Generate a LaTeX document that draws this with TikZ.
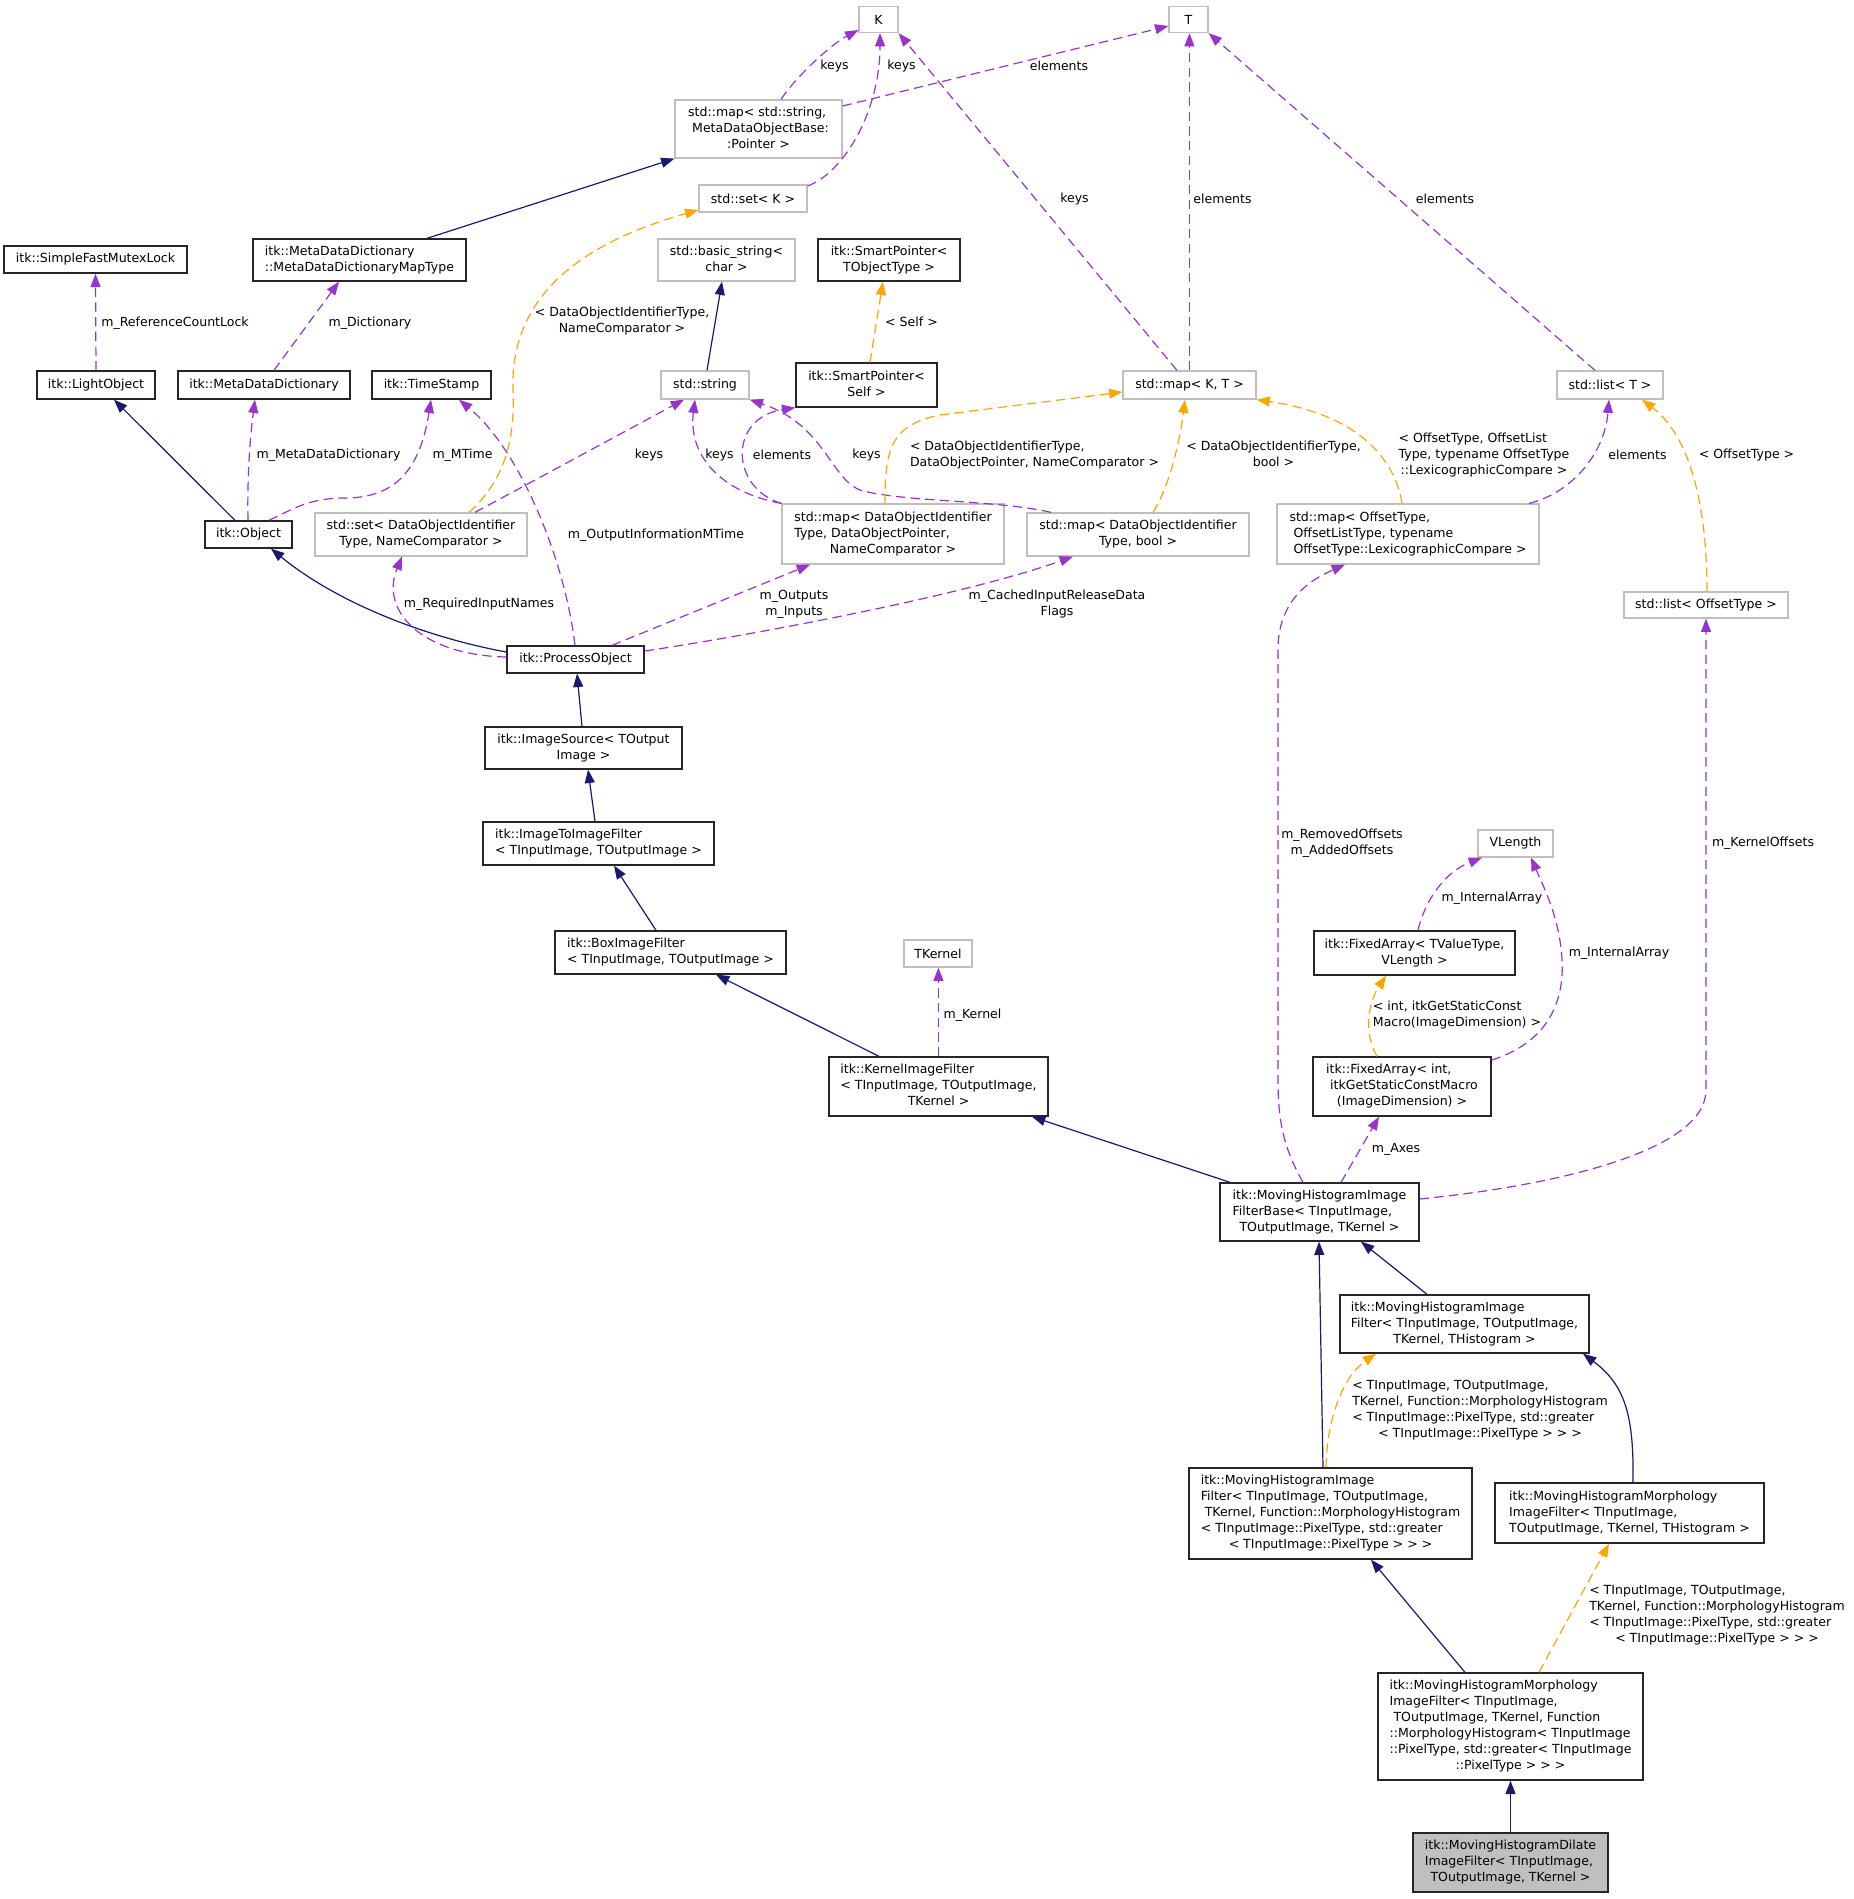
\documentclass[tikz,border=0pt]{standalone}
\usepackage{fontspec}
\setmainfont{DejaVu Sans}
\usepackage{xcolor}
\usepackage{tikz}
\usetikzlibrary{arrows.meta}
\definecolor{midnight}{HTML}{191970}
\definecolor{orchid}{HTML}{9A32CD}
\definecolor{amber}{HTML}{FFA500}
\definecolor{greybox}{HTML}{BFBFBF}
% lines left aligned, last line centred
\newcommand{\nlab}[2]{\begin{tabular}{@{}l@{}}#1\\\multicolumn{1}{@{}c@{}}{#2}\end{tabular}}

\begin{document}
\begin{tikzpicture}[x=0.75pt, y=-0.75pt,
    font=\fontsize{9.4}{12}\selectfont,
    cls/.style={rectangle, draw=black!85, line width=1pt, fill=white, inner sep=1pt},
    ext/.style={cls, draw=greybox, line width=0.9pt},
    sz/.style 2 args={minimum width=#1*0.75pt, minimum height=#2*0.75pt},
    lab/.style={inner sep=0pt},
    inh/.style={-{Triangle[length=10pt, width=7.5pt]}, midnight, line width=0.9pt},
    usg/.style={inh, orchid, dash pattern=on 7pt off 4pt},
    tpl/.style={usg, amber},
]
    \path[use as bounding box, fill=white] (0,0) rectangle (1853,1899);

    % classes
    \node[ext, sz={39}{26}] (K) at (878.5,19.5) {K};
    \node[ext, sz={39}{26}] (T) at (1188.5,19.5) {T};
    \node[ext, sz={167}{58}] (mapStr) at (758.5,129) {\nlab{std::map< std::string,\\\ MetaDataObjectBase:}{:Pointer >}};
    \node[ext, sz={108}{27}] (setK) at (753,198.5) {std::set< K >};
    \node[cls, sz={183}{27}] (mutex) at (95.5,259.5) {itk::SimpleFastMutexLock};
    \node[cls, sz={213}{42}] (mapType) at (359.5,260) {\nlab{itk::MetaDataDictionary}{::MetaDataDictionaryMapType}};
    \node[ext, sz={137}{42}] (basicStr) at (726.5,260) {\nlab{std::basic\_string<}{char >}};
    \node[cls, sz={142}{42}] (spTObj) at (889,260) {\nlab{itk::SmartPointer<}{TObjectType >}};
    \node[cls, sz={118}{28}] (lightObj) at (96,385) {itk::LightObject};
    \node[cls, sz={172}{28}] (mdd) at (264,385) {itk::MetaDataDictionary};
    \node[cls, sz={119}{28}] (timeStamp) at (431.5,385) {itk::TimeStamp};
    \node[ext, sz={88}{28}] (stdStr) at (705,385) {std::string};
    \node[cls, sz={141}{44}] (spSelf) at (866.5,385) {\nlab{itk::SmartPointer<}{Self >}};
    \node[ext, sz={133}{28}] (mapKT) at (1189.5,385) {std::map< K, T >};
    \node[ext, sz={106}{28}] (listT) at (1610,385) {std::list< T >};
    \node[cls, sz={87}{27}] (object) at (248.5,534.5) {itk::Object};
    \node[ext, sz={212}{43}] (setDOI) at (421,534.5) {\nlab{std::set< DataObjectIdentifier}{Type, NameComparator >}};
    \node[ext, sz={222}{60}] (mapDOP) at (893,534) {\nlab{std::map< DataObjectIdentifier\\Type, DataObjectPointer,}{NameComparator >}};
    \node[ext, sz={222}{43}] (mapBool) at (1138,534.5) {\nlab{std::map< DataObjectIdentifier}{Type, bool >}};
    \node[ext, sz={262}{60}] (mapOff) at (1408,534) {\nlab{std::map< OffsetType,\\\ OffsetListType, typename}{\ OffsetType::LexicographicCompare >}};
    \node[ext, sz={164}{26}] (listOff) at (1706,605) {std::list< OffsetType >};
    \node[cls, sz={137}{27}] (procObj) at (575.5,659.5) {itk::ProcessObject};
    \node[cls, sz={197}{42}] (imgSrc) at (583.5,748) {\nlab{itk::ImageSource< TOutput}{Image >}};
    \node[cls, sz={231}{43}] (i2i) at (598.5,843.5) {\nlab{itk::ImageToImageFilter}{< TInputImage, TOutputImage >}};
    \node[ext, sz={75}{27}] (vlen) at (1515.5,843.5) {VLength};
    \node[cls, sz={231}{43}] (boxF) at (670.5,952.5) {\nlab{itk::BoxImageFilter}{< TInputImage, TOutputImage >}};
    \node[ext, sz={68}{27}] (tkernel) at (938,953.5) {TKernel};
    \node[cls, sz={201}{44}] (faTV) at (1414.5,953) {\nlab{itk::FixedArray< TValueType,}{VLength >}};
    \node[cls, sz={219}{59}] (kif) at (938.5,1086.5) {\nlab{itk::KernelImageFilter\\< TInputImage, TOutputImage,}{TKernel >}};
    \node[cls, sz={178}{59}] (faInt) at (1402,1086.5) {\nlab{itk::FixedArray< int,\\\ itkGetStaticConstMacro}{(ImageDimension) >}};
    \node[cls, sz={199}{58}] (mhBase) at (1319.5,1212) {\nlab{itk::MovingHistogramImage\\FilterBase< TInputImage,}{TOutputImage, TKernel >}};
    \node[cls, sz={249}{58}] (mhHist) at (1464.5,1324) {\nlab{itk::MovingHistogramImage\\Filter< TInputImage, TOutputImage,}{TKernel, THistogram >}};
    \node[cls, sz={283}{91}] (mhFun) at (1330.5,1513.5) {\nlab{itk::MovingHistogramImage\\Filter< TInputImage, TOutputImage,\\\ TKernel, Function::MorphologyHistogram\\< TInputImage::PixelType, std::greater}{< TInputImage::PixelType > > >}};
    \node[cls, sz={269}{60}] (mmHist) at (1629.5,1513) {\nlab{itk::MovingHistogramMorphology\\ImageFilter< TInputImage,}{TOutputImage, TKernel, THistogram >}};
    \node[cls, sz={265}{107}] (mmFun) at (1510.5,1726.5) {\nlab{itk::MovingHistogramMorphology\\ImageFilter< TInputImage,\\\ TOutputImage, TKernel, Function\\::MorphologyHistogram< TInputImage\\::PixelType, std::greater< TInputImage}{::PixelType > > >}};
    \node[cls, fill=greybox, sz={195}{59}] (dilate) at (1510.5,1862.5) {\nlab{itk::MovingHistogramDilate\\ImageFilter< TInputImage,}{TOutputImage, TKernel >}};

    % edge labels
    \node[lab] (lRefLock) at (175,323) {m\_ReferenceCountLock};
    \node[lab] (lDict) at (370,323) {m\_Dictionary};
    \node[lab] (lMetaDict) at (328.5,455) {m\_MetaDataDictionary};
    \node[lab] (lMTime) at (462.5,455) {m\_MTime};
    \node[lab] (lReqNames) at (479,604) {m\_RequiredInputNames};
    \node[lab] (lOutInfo) at (656,535) {m\_OutputInformationMTime};
    \node[lab] (lSetTpl) at (622,321.5) {\nlab{< DataObjectIdentifierType,}{NameComparator >}};
    \node[lab] (lKeysA) at (649,455) {keys};
    \node[lab] (lSelf) at (911.5,322) {< Self >};
    \node[lab] (lKeysB) at (719.5,455) {keys};
    \node[lab] (lElemA) at (782,455) {elements};
    \node[lab] (lKeysC) at (866.5,455) {keys};
    \node[lab] (lMapTplA) at (1034.5,455.5) {\nlab{< DataObjectIdentifierType,}{DataObjectPointer, NameComparator >}};
    \node[lab] (lMapTplB) at (1273.5,455.5) {\nlab{< DataObjectIdentifierType,}{bool >}};
    \node[lab] (lKeysD) at (1074.5,199) {keys};
    \node[lab] (lElemB) at (1222.5,199) {elements};
    \node[lab] (lKeysE) at (834.5,66) {keys};
    \node[lab] (lElemC) at (1059,66) {elements};
    \node[lab] (lKeysF) at (901.5,66) {keys};
    \node[lab] (lElemD) at (1445,199) {elements};
    \node[lab] (lOffTpl) at (1484,455) {\nlab{< OffsetType, OffsetList\\Type, typename OffsetType}{::LexicographicCompare >}};
    \node[lab] (lElemE) at (1637.5,455) {elements};
    \node[lab] (lOffList) at (1746.5,455) {< OffsetType >};
    \node[lab] (lInOut) at (794,604) {\nlab{m\_Outputs}{m\_Inputs}};
    \node[lab] (lCached) at (1057,604) {\nlab{m\_CachedInputReleaseData}{Flags}};
    \node[lab] (lKernel) at (972.5,1015) {m\_Kernel};
    \node[lab] (lOffsets) at (1342,843) {\nlab{m\_RemovedOffsets}{m\_AddedOffsets}};
    \node[lab] (lAxes) at (1396,1149) {m\_Axes};
    \node[lab] (lKernOff) at (1763,843) {m\_KernelOffsets};
    \node[lab] (lFaTpl) at (1457,1015.5) {\nlab{< int, itkGetStaticConst}{Macro(ImageDimension) >}};
    \node[lab] (lIntArrA) at (1619,953) {m\_InternalArray};
    \node[lab] (lIntArrB) at (1492,898) {m\_InternalArray};
    \node[lab] (lHistTpl) at (1480,1410.5) {\nlab{< TInputImage, TOutputImage,\\TKernel, Function::MorphologyHistogram\\< TInputImage::PixelType, std::greater}{< TInputImage::PixelType > > >}};
    \node[lab] (lMorphTpl) at (1717,1615.5) {\nlab{< TInputImage, TOutputImage,\\TKernel, Function::MorphologyHistogram\\< TInputImage::PixelType, std::greater}{< TInputImage::PixelType > > >}};

    % inheritance
    \draw[inh] (object.north -| 235,0) -- (lightObj.south -| 114,0);
    \draw[inh] (mapType.north -| 427,0) -- (mapStr.south west);
    \draw[inh] (procObj.west |- 0,652) .. controls (430,638) and (340,605) .. (object.south -| 271,0);
    \draw[inh] (stdStr.north -| 707,0) -- (basicStr.south -| 722,0);
    \draw[inh] (imgSrc.north -| 582,0) -- (procObj.south -| 577,0);
    \draw[inh] (i2i.north -| 595,0) -- (imgSrc.south -| 588,0);
    \draw[inh] (boxF.north -| 656,0) -- (i2i.south -| 614,0);
    \draw[inh] (kif.north -| 879,0) -- (boxF.south -| 716,0);
    \draw[inh] (mhBase.north -| 1230,0) -- (kif.south -| 1032,0);
    \draw[inh] (mhHist.north -| 1427,0) -- (mhBase.south -| 1361,0);
    \draw[inh] (mhFun.north -| 1323,0) -- (mhBase.south -| 1319,0);
    \draw[inh] (mmHist.north -| 1633,0) .. controls (1634,1415) and (1625,1385) .. (mhHist.south -| 1583,0);
    \draw[inh] (mmFun.north -| 1465,0) -- (mhFun.south -| 1371,0);
    \draw[inh] (dilate.north) -- (mmFun.south);

    % members
    \draw[usg] (lightObj.north) -- (mutex.south);
    \draw[usg] (mdd.north -| 274,0) -- (mapType.south -| 339,0);
    \draw[usg] (object.north -| 248,0) .. controls (247,470) and (251,430) .. (mdd.south -| 255,0);
    \draw[usg] (object.north -| 269,0) .. controls (295,508) and (310,498) .. (345,498) .. controls (395,498) and (420,470) .. (timeStamp.south -| 431,0);
    \draw[usg] (procObj.west |- 0,657) .. controls (420,655) and (380,610) .. (setDOI.south -| 402,0);
    \draw[usg] (procObj.north -| 575,0) .. controls (565,560) and (520,450) .. (timeStamp.south -| 459,0);
    \draw[usg] (setDOI.north -| 475,0) -- (stdStr.south -| 684,0);
    \draw[usg] (mapDOP.north west) .. controls (720,492) and (688,455) .. (stdStr.south -| 695,0);
    \draw[usg] (mapDOP.north west) .. controls (730,488) and (728,418) .. (spSelf.south west);
    \draw[usg] (mapBool.north -| 1051,0) .. controls (1000,500) and (900,502) .. (860,490) .. controls (830,478) and (825,425) .. (stdStr.south east);
    \draw[usg] (mapKT.north -| 1177,0) -- (K.south east);
    \draw[usg] (mapKT.north -| 1189.4,0) -- (T.south -| 1189.4,0);
    \draw[usg] (mapStr.north -| 781,0) .. controls (795,78) and (830,45) .. (K.west |- 0,30);
    \draw[usg] (mapStr.east |- 0,106) -- (T.west |- 0,26);
    \draw[usg] (setK.east |- 0,186) .. controls (845,172) and (880,110) .. (K.south -| 880,0);
    \draw[usg] (listT.north -| 1595,0) -- (T.south east);
    \draw[usg] (mapOff.north -| 1529,0) .. controls (1575,492) and (1605,450) .. (listT.south -| 1609,0);
    \draw[usg] (procObj.north -| 612,0) -- (mapDOP.south -| 810,0);
    \draw[usg] (procObj.east |- 0,651) .. controls (720,640) and (950,600) .. (mapBool.south -| 1073,0);
    \draw[usg] (kif.north -| 938.4,0) -- (tkernel.south -| 938.4,0);
    \draw[usg] (mhBase.north -| 1303,0) .. controls (1285,1150) and (1278,1125) .. (1278,1080) -- (1278,650) .. controls (1278,600) and (1310,580) .. (mapOff.south -| 1345,0);
    \draw[usg] (mhBase.north -| 1341,0) -- (faInt.south -| 1379,0);
    \draw[usg] (mhBase.east |- 0,1199) .. controls (1560,1185) and (1706,1150) .. (1706,1090) -- (listOff.south -| 1706,0);
    \draw[usg] (faInt.east |- 0,1060) .. controls (1540,1045) and (1565,1010) .. (1562,960) .. controls (1560,920) and (1545,890) .. (vlen.south -| 1531,0);
    \draw[usg] (faTV.north -| 1418,0) .. controls (1425,900) and (1445,872) .. (vlen.south -| 1482,0);

    % template instances
    \draw[tpl] (setDOI.north -| 469,0) .. controls (505,480) and (515,440) .. (513,390) .. controls (510,300) and (575,245) .. (setK.west |- 0,210);
    \draw[tpl] (spSelf.north -| 870,0) -- (spTObj.south -| 883,0);
    \draw[tpl] (mapDOP.north -| 885,0) .. controls (885,450) and (890,425) .. (940,415) -- (mapKT.west |- 0,392);
    \draw[tpl] (mapBool.north -| 1153,0) .. controls (1170,485) and (1180,440) .. (mapKT.south -| 1185,0);
    \draw[tpl] (mapOff.north -| 1402,0) .. controls (1395,460) and (1360,415) .. (mapKT.south east);
    \draw[tpl] (listOff.north -| 1707,0) .. controls (1707,520) and (1695,440) .. (listT.south -| 1642,0);
    \draw[tpl] (faInt.north -| 1377,0) .. controls (1362,1030) and (1370,1000) .. (faTV.south -| 1386,0);
    \draw[tpl] (mhFun.north -| 1326,0) .. controls (1327,1415) and (1345,1375) .. (mhHist.south -| 1376,0);
    \draw[tpl] (mmFun.north -| 1539,0) -- (mmHist.south -| 1609,0);
\end{tikzpicture}
\end{document}
